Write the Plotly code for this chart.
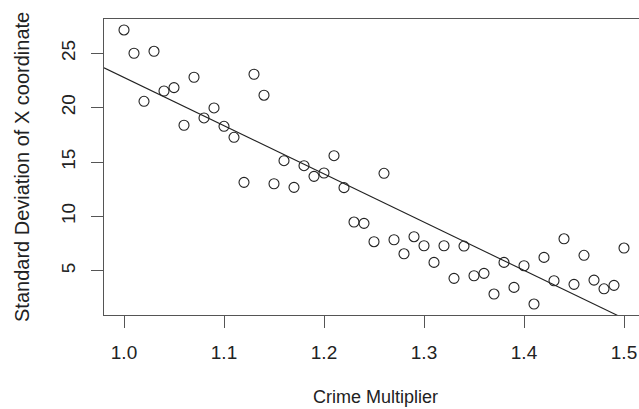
import numpy as np
import plotly.graph_objects as go

crime_multiplier = [1.00, 1.01, 1.02, 1.03, 1.04, 1.05, 1.06, 1.07, 1.08, 1.09,
                    1.10, 1.11, 1.12, 1.13, 1.14, 1.15, 1.16, 1.17, 1.18, 1.19,
                    1.20, 1.21, 1.22, 1.23, 1.24, 1.25, 1.26, 1.27, 1.28, 1.29,
                    1.30, 1.31, 1.32, 1.33, 1.34, 1.35, 1.36, 1.37, 1.38, 1.39,
                    1.40, 1.41, 1.42, 1.43, 1.44, 1.45, 1.46, 1.47, 1.48, 1.49,
                    1.50]
sd_x = [27.14, 25.00, 20.58, 25.18, 21.53, 21.84, 18.38, 22.79, 19.05, 19.97,
        18.28, 17.27, 13.13, 23.07, 21.14, 13.00, 15.12, 12.67, 14.66, 13.68,
        13.99, 15.58, 12.64, 9.48, 9.36, 7.67, 13.96, 7.85, 6.56, 8.13,
        7.30, 5.77, 7.30, 4.30, 7.27, 4.54, 4.76, 2.86, 5.77, 3.47,
        5.46, 1.94, 6.23, 4.08, 7.94, 3.75, 6.42, 4.14, 3.34, 3.66,
        7.09]
x_ticks = [1.0, 1.1, 1.2, 1.3, 1.4, 1.5]
x_tick_labels = ["1.0", "1.1", "1.2", "1.3", "1.4", "1.5"]
y_ticks = [5, 10, 15, 20, 25]
y_tick_labels = ["5", "10", "15", "20", "25"]

x = np.array(crime_multiplier)
y = np.array(sd_x)
slope, intercept = np.polyfit(x, y, 1)

# R-style axis extension (4%)
xr = x.max() - x.min()
yr = y.max() - y.min()
x_lo = x.min() - 0.04 * xr
x_hi_full = x.max() + 0.04 * xr
y_lo = y.min() - 0.04 * yr
y_hi = y.max() + 0.04 * yr

W, H = 639, 409
ml, mt, mb = 104, 19, 94
plot_w = W - ml
# the R plot region extends beyond the picture's right edge: crop there
full_w = 540.0
x_hi = x_lo + (x_hi_full - x_lo) * plot_w / full_w

line_x = np.array([x_lo, x_hi_full])
line_y = intercept + slope * line_x

font = "Liberation Sans, Arial, Helvetica, sans-serif"
txt = "#222222"
axc = "#555555"

fig = go.Figure()
fig.add_trace(go.Scatter(
    x=x, y=y, mode="markers",
    marker=dict(symbol="circle-open", size=10, color="#222222",
                line=dict(width=1.1, color="#222222")),
    showlegend=False, cliponaxis=False))
fig.add_trace(go.Scatter(
    x=line_x, y=line_y, mode="lines",
    line=dict(color="#222222", width=1.1),
    showlegend=False))

fig.update_layout(
    width=W, height=H,
    margin=dict(l=ml, r=0, t=mt, b=mb, pad=0),
    paper_bgcolor="white", plot_bgcolor="white",
    font=dict(family=font, size=19, color=txt),
    xaxis=dict(range=[x_lo, x_hi], tickvals=x_ticks, ticktext=x_tick_labels,
               showgrid=False, zeroline=False, showline=True, linecolor=axc,
               linewidth=1.4, mirror=True, ticks="outside", ticklen=12,
               tickwidth=1.2, tickcolor=axc, ticklabelstandoff=8,
               tickfont=dict(family=font, size=19, color=txt)),
    yaxis=dict(range=[y_lo, y_hi], tickvals=y_ticks, ticktext=y_tick_labels,
               showgrid=False, zeroline=False, showline=True, linecolor=axc,
               linewidth=1.4, mirror=False, ticks="outside", ticklen=12,
               tickwidth=1.2, tickcolor=axc, tickangle=-90,
               ticklabelstandoff=8,
               tickfont=dict(family=font, size=19, color=txt)),
    annotations=[
        dict(text="Crime Multiplier", xref="paper", yref="paper",
             x=(375 - ml) / plot_w, y=-(397 - (H - mb)) / (H - mb - mt),
             xanchor="center", yanchor="middle", showarrow=False,
             font=dict(family=font, size=18, color=txt)),
        dict(text="Standard Deviation of X coordinate", xref="paper", yref="paper",
             x=(22 - ml) / plot_w, y=(H - mb - 167) / (H - mb - mt), textangle=-90,
             xanchor="center", yanchor="middle", showarrow=False,
             font=dict(family=font, size=20, color=txt)),
    ],
)

fig.write_html("out.html",
               config={"displayModeBar": False},
               post_script="document.body.style.margin='0px';"
                           "document.body.style.overflow='hidden';")
